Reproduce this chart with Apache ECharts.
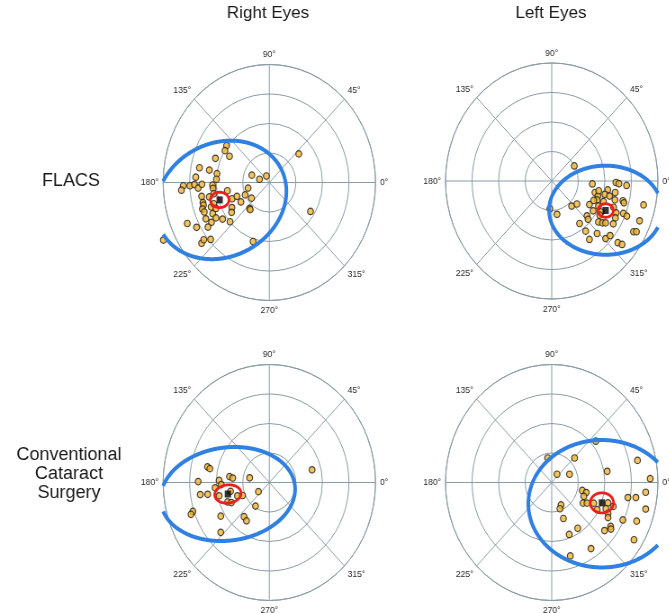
<!DOCTYPE html>
<html><head><meta charset="utf-8">
<script src="https://cdn.jsdelivr.net/npm/echarts@6/dist/echarts.min.js"></script>
<style>
html,body{margin:0;padding:0;background:#fff;overflow:hidden;width:669px;height:613px}
#wrap{width:669px;height:613px;overflow:hidden;position:relative}
#chart{width:744px;height:613px;transform:scaleX(0.9);transform-origin:0 0;position:absolute;left:0;top:0}
</style></head><body><div id="wrap"><div id="chart"></div></div>
<script>
// ---- labels ----
const columnTitles = ['Right Eyes', 'Left Eyes'];
const rowTitles = ['FLACS', 'Conventional\nCataract\nSurgery'];
const angleTicks = [0, 45, 90, 135, 180, 225, 270, 315];
const ringCount = 4;

// ---- data: vector components [x, y] in ring units ----
const flacsRight = [[-1.61,1.25],[-1.67,1.08],[-1.50,0.89],[-2.03,0.82],[-2.63,0.50],[-2.26,0.42],[-1.97,0.30],[-2.77,0.18],[-1.99,0.11],[-0.66,0.25],[-0.37,0.11],[-0.11,0.22],[1.11,0.97],[-3.24,-0.11],[-3.31,-0.26],[-2.99,-0.11],[-2.82,-0.07],[-2.68,-0.19],[-2.54,-0.06],[-2.14,-0.09],[-2.12,-0.20],[-1.58,-0.28],[-0.80,-0.19],[-2.55,-0.47],[-2.26,-0.49],[-2.09,-0.38],[-1.40,-0.55],[-1.22,-0.47],[-0.91,-0.42],[-0.67,-0.53],[-1.07,-0.66],[-0.74,-0.88],[-0.72,-0.92],[-2.50,-0.68],[-2.48,-0.77],[-2.52,-0.90],[-2.45,-1.00],[-2.19,-0.83],[-2.09,-0.72],[-2.13,-1.06],[-2.01,-0.88],[-1.41,-0.85],[-1.42,-1.01],[-2.39,-1.23],[-2.01,-1.20],[-2.18,-1.35],[-1.76,-1.24],[-1.48,-1.33],[-3.09,-1.39],[-2.74,-1.52],[-2.31,-1.51],[-3.99,-1.95],[-2.55,-2.06],[-2.47,-1.94],[-2.21,-1.93],[-0.61,-2.00],[1.55,-0.98]];
const flacsLeft = [[0.85,0.51],[1.53,-0.10],[2.42,-0.05],[2.53,-0.09],[2.82,-0.15],[2.11,-0.30],[2.39,-0.39],[1.63,-0.39],[1.74,-0.51],[2.00,-0.45],[2.18,-0.51],[1.71,-0.64],[1.58,-0.66],[2.38,-0.64],[2.68,-0.67],[2.72,-0.74],[3.46,-0.81],[0.75,-0.85],[0.95,-0.78],[1.42,-0.80],[1.76,-0.85],[1.56,-1.01],[1.33,-1.18],[1.37,-1.30],[1.86,-1.05],[2.43,-1.08],[2.40,-1.25],[2.70,-1.10],[2.83,-1.19],[-0.07,-0.94],[0.20,-1.13],[1.05,-1.44],[1.76,-1.39],[1.91,-1.42],[2.03,-1.42],[2.32,-1.45],[3.31,-1.35],[1.28,-1.70],[1.71,-1.78],[1.42,-1.98],[2.03,-1.95],[2.20,-1.85],[3.08,-1.72],[3.19,-1.72],[2.49,-2.09],[2.65,-2.15],[2.33,-0.89],[1.95,-0.70],[1.77,-0.33],[1.81,-1.16]];
const convRight = [[-2.33,0.53],[-2.24,0.47],[-2.68,0.03],[-1.89,0.07],[-1.50,0.20],[-1.38,0.15],[-0.74,0.16],[1.61,0.43],[-1.81,-0.07],[-2.04,-0.18],[-2.60,-0.41],[-2.32,-0.40],[-1.89,-0.45],[-1.46,-0.30],[-1.20,-0.45],[-1.01,-0.44],[-0.41,-0.31],[-1.57,-0.66],[-1.43,-0.68],[-0.52,-0.80],[-2.88,-0.98],[-2.95,-1.08],[-1.83,-1.14],[-0.95,-1.16],[-0.86,-1.30],[-1.83,-1.69]];
const convLeft = [[1.66,1.40],[-0.15,0.83],[0.86,0.83],[0.20,0.28],[0.67,0.28],[2.09,0.38],[3.23,0.75],[3.71,0.13],[1.15,-0.27],[1.30,-0.34],[1.21,-0.47],[1.18,-0.70],[1.33,-0.70],[1.58,-0.70],[2.12,-0.69],[2.32,-0.81],[2.04,-0.89],[1.71,-0.92],[2.87,-0.51],[3.17,-0.51],[3.54,-0.33],[3.54,-0.90],[0.35,-0.76],[0.31,-0.89],[0.44,-1.22],[2.12,-1.05],[2.12,-1.19],[2.68,-1.27],[3.20,-1.31],[0.98,-1.55],[0.66,-1.76],[1.99,-1.63],[2.22,-1.49],[2.23,-1.58],[3.10,-1.94],[1.48,-2.24],[0.70,-2.49]];

// centroids [x, y]
const centroidFlacsRight = [-1.87, -0.59];
const centroidFlacsLeft = [2.03, -1.00];
const centroidConvRight = [-1.56, -0.39];
const centroidConvLeft = [1.89, -0.69];

// ellipses [cx, cy, semiA, semiB, rotationDeg]
const meanEllipseFlacsRight = [-1.87, -0.59, 0.35, 0.26, 0];
const meanEllipseFlacsLeft = [2.03, -1.00, 0.29, 0.23, 0];
const meanEllipseConvRight = [-1.56, -0.39, 0.50, 0.31, 5];
const meanEllipseConvLeft = [1.89, -0.69, 0.44, 0.34, 0];
const popEllipseFlacsRight = [-1.81, -0.59, 2.50, 1.95, 18];
const popEllipseFlacsLeft = [2.03, -0.99, 2.13, 1.51, 0];
const popEllipseConvRight = [-1.56, -0.39, 2.54, 1.58, 6];
const popEllipseConvLeft = [1.89, -0.72, 2.77, 2.16, 0];

// ---- layout (chart is drawn then compressed horizontally by SX) ----
const SX = 0.9;
const R = 118;
const panels = [
  {pts: flacsRight, c: centroidFlacsRight, me: meanEllipseFlacsRight, pe: popEllipseFlacsRight, center: [269.3/SX, 182.5]},
  {pts: flacsLeft, c: centroidFlacsLeft, me: meanEllipseFlacsLeft, pe: popEllipseFlacsLeft, center: [551.7/SX, 181]},
  {pts: convRight, c: centroidConvRight, me: meanEllipseConvRight, pe: popEllipseConvRight, center: [269.3/SX, 482.5]},
  {pts: convLeft, c: centroidConvLeft, me: meanEllipseConvLeft, pe: popEllipseConvLeft, center: [551.7/SX, 482.5]}
];

function toPolar(p) {
  let a = Math.atan2(p[1], p[0]) * 180 / Math.PI;
  if (a < 0) a += 360;
  return [Math.hypot(p[0], p[1]), a];
}

const gridColor = '#8a9ca4';
const polar = [], angleAxis = [], radiusAxis = [], series = [];

function ellipseSeries(idx, params, color, width, clip, z) {
  return {
    type: 'custom', coordinateSystem: 'polar', polarIndex: idx, silent: true, z: z,
    data: [params],
    renderItem: function (p, api) {
      const cx = api.value(0), cy = api.value(1), a = api.value(2), b = api.value(3);
      const th = api.value(4) * Math.PI / 180;
      const o = api.coord([0, 0]);
      const e = api.coord([1, 0]);
      const s = Math.hypot(e[0] - o[0], e[1] - o[1]);
      const xmin = o[0] - ringCount * s, xmax = o[0] + ringCount * s;
      const N = 720, pts = [];
      for (let k = 0; k < N; k++) {
        const f = 2 * Math.PI * k / N;
        const dx = a * Math.cos(f) * Math.cos(th) - b * Math.sin(f) * Math.sin(th);
        const dy = a * Math.cos(f) * Math.sin(th) + b * Math.sin(f) * Math.cos(th);
        pts.push([o[0] + s * (cx + dx), o[1] - s * (cy + dy)]);
      }
      const style = {stroke: color, lineWidth: width, fill: 'none', lineJoin: 'round', lineCap: 'butt'};
      const inside = q => !clip || (q[0] >= xmin && q[0] <= xmax);
      let first = -1;
      for (let k = 0; k < N; k++) if (!inside(pts[k])) { first = k; break; }
      if (first < 0) return {type: 'polygon', shape: {points: pts}, style: style};
      const runs = []; let cur = [];
      for (let j = 0; j <= N; j++) {
        const q = pts[(first + j) % N];
        if (inside(q)) cur.push(q);
        else { if (cur.length > 1) runs.push(cur); cur = []; }
      }
      if (cur.length > 1) runs.push(cur);
      return {type: 'group', children: runs.map(r => ({type: 'polyline', shape: {points: r}, style: style}))};
    }
  };
}

panels.forEach((pn, i) => {
  polar.push({center: pn.center, radius: R});
  angleAxis.push({
    polarIndex: i, type: 'value', min: 0, max: 360, interval: 45, startAngle: 0, clockwise: false,
    axisLine: {lineStyle: {color: gridColor, width: 1}},
    axisTick: {show: false},
    axisLabel: {margin: 5, color: '#2a2a2a', fontSize: 9.5, fontFamily: 'Liberation Sans, Arial, sans-serif',
      formatter: v => (angleTicks.indexOf(v) >= 0 ? v + '°' : '')},
    splitLine: {show: true, lineStyle: {color: gridColor, width: 1}}
  });
  radiusAxis.push({
    polarIndex: i, type: 'value', min: 0, max: ringCount, interval: 1,
    axisLine: {show: false}, axisTick: {show: false}, axisLabel: {show: false},
    splitLine: {show: true, lineStyle: {color: gridColor, width: 1}}
  });
  series.push({
    type: 'scatter', coordinateSystem: 'polar', polarIndex: i, clip: false, z: 3,
    symbol: 'circle', symbolSize: 6.5,
    itemStyle: {color: '#F3B532', borderColor: '#1a1a1a', borderWidth: 1.2},
    data: pn.pts.map(toPolar), silent: true
  });
  series.push(ellipseSeries(i, pn.pe, '#2f80e2', 4, true, 4));
  series.push(ellipseSeries(i, pn.me, '#ee1d1d', 2.8, false, 5));
  series.push({
    type: 'scatter', coordinateSystem: 'polar', polarIndex: i, clip: false, z: 6,
    symbol: 'rect', symbolSize: 7, itemStyle: {color: '#000'},
    data: [toPolar(pn.c)], silent: true
  });
});

const textFont = 'Liberation Sans, Arial, sans-serif';
const unsquash = 1 / SX;
const graphic = [
  {type: 'text', x: 268/SX, y: 13, scaleX: unsquash, style: {text: columnTitles[0], fontSize: 17, fontFamily: textFont, fill: '#1a1a1a', align: 'center', verticalAlign: 'middle'}},
  {type: 'text', x: 551/SX, y: 13, scaleX: unsquash, style: {text: columnTitles[1], fontSize: 17, fontFamily: textFont, fill: '#1a1a1a', align: 'center', verticalAlign: 'middle'}},
  {type: 'text', x: 71/SX, y: 181, scaleX: unsquash, style: {text: rowTitles[0], fontSize: 18, fontFamily: textFont, fill: '#1a1a1a', align: 'center', verticalAlign: 'middle'}},
  {type: 'text', x: 69/SX, y: 474, scaleX: unsquash, style: {text: rowTitles[1], fontSize: 18, lineHeight: 19, fontFamily: textFont, fill: '#1a1a1a', align: 'center', verticalAlign: 'middle'}}
];

const chart = echarts.init(document.getElementById('chart'), null, {renderer: 'canvas'});
chart.setOption({
  animation: false,
  backgroundColor: '#fff',
  polar: polar, angleAxis: angleAxis, radiusAxis: radiusAxis,
  series: series, graphic: graphic
});
</script></body></html>
